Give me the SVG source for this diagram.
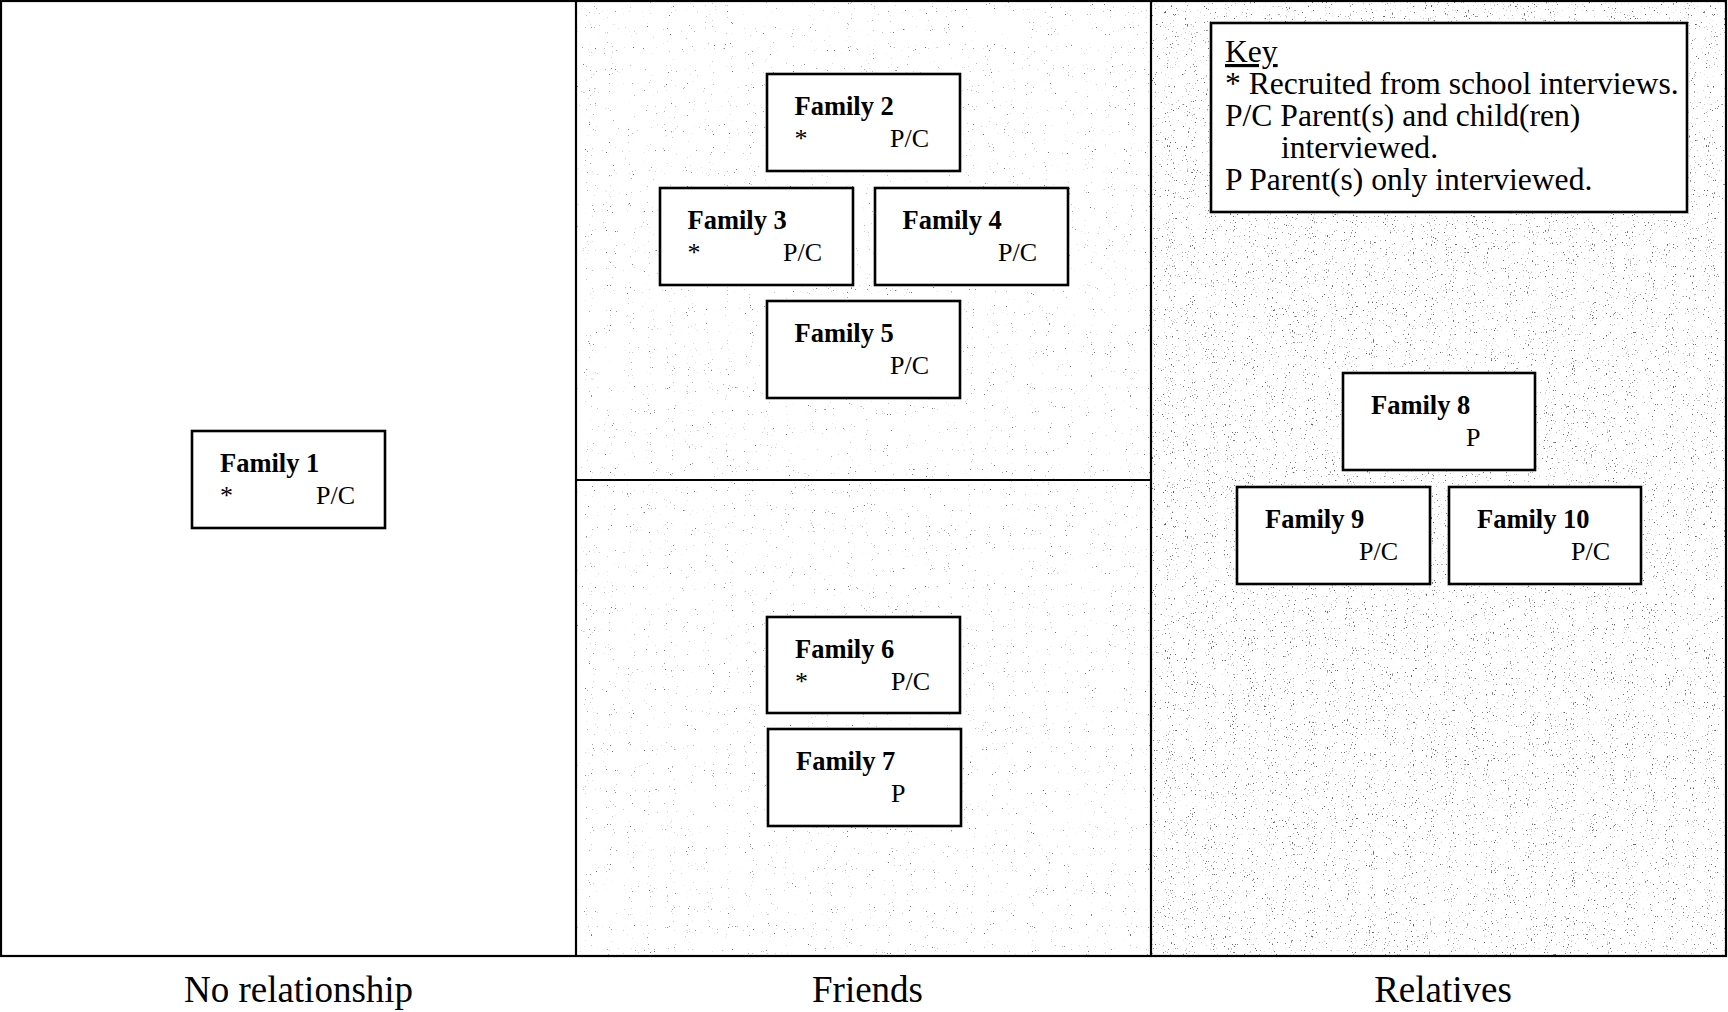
<svg xmlns="http://www.w3.org/2000/svg" width="1728" height="1012" viewBox="0 0 1728 1012">
<style>
.frame{fill:none;stroke:#000;stroke-width:2.2}
.box{fill:#fff;stroke:#000;stroke-width:2.6}
.t{font-family:"Liberation Serif","Times New Roman",serif;fill:#000}
.fam{font-size:26.5px;font-weight:bold}
.sub{font-size:26px}
.key{font-size:31.6px}
.lab{font-size:37px}
</style>
<defs>
<filter id="texF" x="0" y="0" width="1" height="1" color-interpolation-filters="sRGB">
<feTurbulence type="fractalNoise" baseFrequency="0.95" numOctaves="2" seed="4"/>
<feColorMatrix type="matrix" values="0 0 0 0 0.45 0 0 0 0 0.45 0 0 0 0 0.45 10 0 0 0 -7.4"/>
</filter>
<filter id="texR" x="0" y="0" width="1" height="1" color-interpolation-filters="sRGB">
<feTurbulence type="fractalNoise" baseFrequency="0.95 0.5" numOctaves="2" seed="9"/>
<feColorMatrix type="matrix" values="0 0 0 0 0.4 0 0 0 0 0.4 0 0 0 0 0.4 10 0 0 0 -6.85"/>
</filter>
</defs>
<rect x="0" y="0" width="1728" height="1012" fill="#fff"/>
<g id="background">
<rect x="577" y="2" width="574" height="953" fill="#fff" filter="url(#texF)"/>
<rect x="1152" y="2" width="573" height="953" fill="#fff" filter="url(#texR)"/>
</g>
<g id="frame">
<rect class="frame" x="1" y="1" width="1725" height="955"/>
<line class="frame" x1="576" y1="1" x2="576" y2="956"/>
<line class="frame" x1="1151" y1="1" x2="1151" y2="956"/>
<line class="frame" x1="576" y1="480" x2="1151" y2="480"/>
</g>
<g id="connectors"></g>
<g id="key">
<rect class="box" x="1211" y="23" width="476" height="189"/>
<text class="t key" x="1225" y="62" text-decoration="underline">Key</text>
<text class="t key" x="1225" y="94">* Recruited from school interviews.</text>
<text class="t key" x="1225" y="126">P/C Parent(s) and child(ren)</text>
<text class="t key" x="1281" y="158">interviewed.</text>
<text class="t key" x="1225" y="190">P Parent(s) only interviewed.</text>
</g>
<g id="family1"><rect class="box" x="192" y="431" width="193" height="97"/><text class="t fam" x="220" y="472">Family 1</text><text class="t sub" x="220" y="504">*</text><text class="t sub" x="316" y="504">P/C</text></g>
<g id="family2"><rect class="box" x="767" y="74" width="193" height="97"/><text class="t fam" x="794.5" y="115">Family 2</text><text class="t sub" x="794.5" y="147">*</text><text class="t sub" x="890" y="147">P/C</text></g>
<g id="family3"><rect class="box" x="660" y="188" width="193" height="97"/><text class="t fam" x="687.5" y="229">Family 3</text><text class="t sub" x="687.5" y="261">*</text><text class="t sub" x="783" y="261">P/C</text></g>
<g id="family4"><rect class="box" x="875" y="188" width="193" height="97"/><text class="t fam" x="902.5" y="229">Family 4</text><text class="t sub" x="998" y="261">P/C</text></g>
<g id="family5"><rect class="box" x="767" y="301" width="193" height="97"/><text class="t fam" x="794.5" y="342">Family 5</text><text class="t sub" x="890" y="374">P/C</text></g>
<g id="family6"><rect class="box" x="767" y="617" width="193" height="96"/><text class="t fam" x="795" y="658">Family 6</text><text class="t sub" x="795" y="690">*</text><text class="t sub" x="891" y="690">P/C</text></g>
<g id="family7"><rect class="box" x="768" y="729" width="193" height="97"/><text class="t fam" x="796" y="770">Family 7</text><text class="t sub" x="891" y="802">P</text></g>
<g id="family8"><rect class="box" x="1343" y="373" width="192" height="97"/><text class="t fam" x="1371" y="414">Family 8</text><text class="t sub" x="1466" y="446">P</text></g>
<g id="family9"><rect class="box" x="1237" y="487" width="193" height="97"/><text class="t fam" x="1265" y="528">Family 9</text><text class="t sub" x="1359" y="560">P/C</text></g>
<g id="family10"><rect class="box" x="1449" y="487" width="192" height="97"/><text class="t fam" x="1477" y="528">Family 10</text><text class="t sub" x="1571" y="560">P/C</text></g>
<g id="labels">
<text class="t lab" x="298.5" y="1002" text-anchor="middle">No relationship</text>
<text class="t lab" x="867.5" y="1002" text-anchor="middle">Friends</text>
<text class="t lab" x="1443" y="1002" text-anchor="middle">Relatives</text>
</g>
</svg>
